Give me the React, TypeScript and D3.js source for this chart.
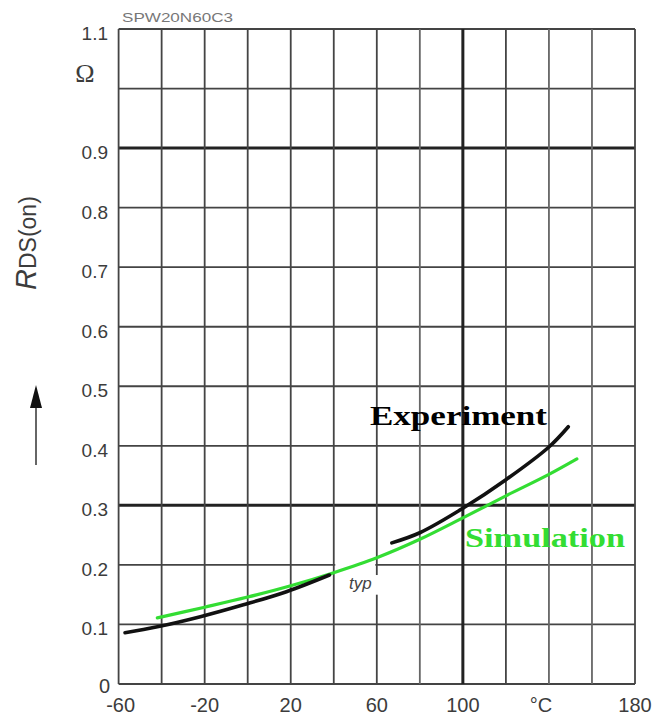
import React from "react";
import * as d3 from "d3";

// On-resistance vs. junction temperature, SPW20N60C3
const partName = "SPW20N60C3";

const gridTemps = d3.range(-60, 181, 20);
const gridRds = d3.range(0, 1.101, 0.1).map((v) => +v.toFixed(1));
const heavyTemps = [100];
const heavyRds = [0.3, 0.9];

const xTickValues = [-60, -20, 20, 60, 100, 140, 180];
const xTickLabels = ["-60", "-20", "20", "60", "100", "°C", "180"];
const yTickValues = [0.1, 0.2, 0.3, 0.4, 0.5, 0.6, 0.7, 0.8, 0.9, 1.1];

// measured curve, two traced pieces
const expTempA = [-57, -42, -22, -2, 18, 38];
const expRdsA = [0.086, 0.096, 0.113, 0.133, 0.155, 0.183];
const expTempB = [67, 80, 100, 120, 140, 149];
const expRdsB = [0.237, 0.254, 0.295, 0.343, 0.398, 0.432];

// simulated curve
const simTemp = [-42, -20, 0, 20, 40, 60, 80, 100, 120, 140, 153];
const simRds = [0.111, 0.129, 0.146, 0.165, 0.187, 0.212, 0.243, 0.279, 0.316, 0.352, 0.378];

const W = 657;
const H = 719;
const left = 118.6;
const right = 635;
const top = 29;
const bottom = 684;

const x = d3.scaleLinear().domain([-60, 180]).range([left, right]);
const y = d3.scaleLinear().domain([0, 1.1]).range([bottom, top]);

const line = d3
  .line<[number, number]>()
  .x((d) => x(d[0]))
  .y((d) => y(d[1]))
  .curve(d3.curveCatmullRom.alpha(0.5));

const zip = (a: number[], b: number[]) => a.map((v, i) => [v, b[i]] as [number, number]);

const sans = "'Liberation Sans', Arial, sans-serif";
const serif = "'Liberation Serif', 'Times New Roman', serif";
const labelColor = "#3c3c3c";
const green = "#33dd33";

export default function App() {
  return (
    <svg
      width={W}
      height={H}
      style={{ position: "absolute", left: 0, top: 0, background: "#fff" }}
    >
      <text x={122} y={22} fontFamily={sans} fontSize={13} fill="#777" textLength={111} lengthAdjust="spacingAndGlyphs">
        {partName}
      </text>

      {/* grid */}
      {gridRds.map((v) => {
        const heavy = heavyRds.includes(v);
        return (
          <line
            key={"h" + v}
            x1={left}
            x2={right}
            y1={y(v)}
            y2={y(v)}
            stroke={heavy ? "#222" : "#444"}
            strokeWidth={heavy ? 3 : 1.8}
          />
        );
      })}
      {gridTemps.map((t) => {
        const heavy = heavyTemps.includes(t);
        const light = t === 80 || t === 140 || t === 160;
        return (
          <line
            key={"v" + t}
            x1={x(t)}
            x2={x(t)}
            y1={top}
            y2={bottom}
            stroke={heavy ? "#222" : light ? "#666" : "#444"}
            strokeWidth={heavy ? 3 : 1.8}
          />
        );
      })}

      {/* cleared area around the "typ" note */}
      <rect x={x(40) + 1.5} y={y(0.2) - 2} width={x(60) - x(40) - 3} height={4} fill="#fff" />
      <rect x={x(58)} y={y(0.183)} width={x(62) - x(58)} height={y(0.15) - y(0.183)} fill="#fff" />

      {/* y tick labels */}
      {yTickValues.map((v) => (
        <text
          key={"yl" + v}
          x={108}
          y={y(v) + 11}
          textAnchor="end"
          fontFamily={sans}
          fontSize={19}
          fill={labelColor}
        >
          {v.toFixed(1)}
        </text>
      ))}
      <text x={104.5} y={693} textAnchor="middle" fontFamily={sans} fontSize={20} fill={labelColor}>
        0
      </text>
      <text x={85} y={82} textAnchor="middle" fontFamily={serif} fontSize={26} fill={labelColor}>
        Ω
      </text>

      {/* x tick labels */}
      {xTickValues.map((t, i) => (
        <text
          key={"xl" + t}
          x={x(t) + (xTickLabels[i] === "°C" ? -8 : 0) + (t === -60 ? 2 : 0)}
          y={712}
          textAnchor="middle"
          fontFamily={sans}
          fontSize={20}
          fill={labelColor}
        >
          {xTickLabels[i]}
        </text>
      ))}

      {/* y axis title with arrow */}
      <text
        transform="translate(36,290) rotate(-90)"
        fontFamily={sans}
        fill={labelColor}
      >
        <tspan fontSize={29} fontStyle="italic">R</tspan>
        <tspan fontSize={23}>DS(on)</tspan>
      </text>
      <line x1={36} x2={36} y1={465} y2={400} stroke="#333" strokeWidth={1.5} />
      <path d="M36,385 L30,408 L42,408 Z" fill="#111" />

      {/* curves */}
      <path d={line(zip(simTemp, simRds)) || ""} fill="none" stroke={green} strokeWidth={3.2} strokeLinecap="round" />
      <path d={line(zip(expTempA, expRdsA)) || ""} fill="none" stroke="#111" strokeWidth={3.6} strokeLinecap="round" />
      <path d={line(zip(expTempB, expRdsB)) || ""} fill="none" stroke="#111" strokeWidth={3.6} strokeLinecap="round" />

      <text x={349} y={589} fontFamily={sans} fontStyle="italic" fontSize={17} fill="#444">
        typ
      </text>

      {/* series labels */}
      <text
        x={370}
        y={425}
        fontFamily={serif}
        fontWeight="bold"
        fontSize={28}
        fill="#000"
        textLength={177}
        lengthAdjust="spacingAndGlyphs"
      >
        Experiment
      </text>
      <text
        x={465}
        y={547}
        fontFamily={serif}
        fontWeight="bold"
        fontSize={28}
        fill={green}
        textLength={160}
        lengthAdjust="spacingAndGlyphs"
      >
        Simulation
      </text>
    </svg>
  );
}
